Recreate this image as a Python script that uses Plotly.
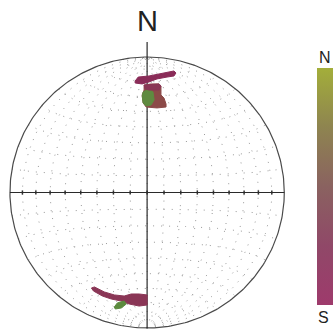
import numpy as np
import plotly.graph_objects as go

# ---- data (equal-area net coordinates, unit radius: east, north) ----
top_streak_e = [-0.087, -0.065, 0.014, 0.087, 0.145, 0.196, 0.210, 0.196, 0.145, 0.072, 0.014, -0.036, -0.087]
top_streak_n = [0.823, 0.852, 0.860, 0.875, 0.889, 0.897, 0.882, 0.860, 0.852, 0.838, 0.816, 0.801, 0.808]

top_blob_e = [-0.022, 0.029, 0.087, 0.101, 0.101, 0.123, 0.138, 0.138, 0.072, -0.007, -0.029, -0.036, -0.022]
top_blob_n = [0.793, 0.801, 0.801, 0.786, 0.720, 0.697, 0.653, 0.631, 0.624, 0.631, 0.661, 0.720, 0.756]

top_green_e = [-0.029, 0.014, 0.043, 0.051, 0.029, -0.007, -0.029, -0.036]
top_green_n = [0.742, 0.764, 0.742, 0.683, 0.646, 0.638, 0.661, 0.712]

top_cap_e = [-0.022, 0.087, 0.101, 0.087, 0.014, -0.014]
top_cap_n = [0.793, 0.801, 0.786, 0.756, 0.756, 0.764]

bot_streak_e = [-0.406, -0.384, -0.312, -0.239, -0.167, -0.116, -0.058, 0.0, 0.0, -0.058, -0.130, -0.188, -0.261, -0.326, -0.391]
bot_streak_n = [-0.705, -0.697, -0.734, -0.756, -0.764, -0.749, -0.749, -0.756, -0.830, -0.838, -0.823, -0.801, -0.786, -0.764, -0.727]

bot_green_e = [-0.239, -0.217, -0.167, -0.152, -0.188, -0.232]
bot_green_n = [-0.845, -0.815, -0.801, -0.823, -0.852, -0.860]

grid_step_deg = 10
colorbar_top_label = "N"
colorbar_bottom_label = "S"
north_label = "N"

colorscale = [
    [0.0, "#9e3a6c"],
    [0.25, "#904868"],
    [0.5, "#8a6260"],
    [0.75, "#8e8450"],
    [1.0, "#a3ae3a"],
]


def project(x, y, z):
    """Lower-hemisphere equal-area projection of direction (east, north, down)."""
    x = np.asarray(x, float)
    y = np.asarray(y, float)
    z = np.asarray(z, float)
    h = np.sqrt(x ** 2 + y ** 2)
    r = np.sqrt(np.clip(1 - z, 0, None))
    with np.errstate(invalid="ignore", divide="ignore"):
        X = np.where(h > 0, r * x / h, 0)
        Y = np.where(h > 0, r * y / h, 0)
    return X, Y


fig = go.Figure()

grid_color = "#9a9a9a"
grid_dash = "1px,7px"
# great circles (meridians through N and S)
phi = np.radians(np.linspace(-90, 90, 181))
for lam_d in range(-90 + grid_step_deg, 90, grid_step_deg):
    lam = np.radians(lam_d)
    X, Y = project(np.cos(phi) * np.sin(lam), np.sin(phi), np.cos(phi) * np.cos(lam))
    fig.add_trace(go.Scatter(x=X, y=Y, mode="lines",
                             line=dict(color=grid_color, width=1, dash=grid_dash),
                             hoverinfo="skip", showlegend=False))
# small circles around the N-S axis
lamv = np.radians(np.linspace(-90, 90, 181))
for phi_d in range(-90 + grid_step_deg, 90, grid_step_deg):
    p = np.radians(phi_d)
    X, Y = project(np.cos(p) * np.sin(lamv), np.full_like(lamv, np.sin(p)), np.cos(p) * np.cos(lamv))
    fig.add_trace(go.Scatter(x=X, y=Y, mode="lines",
                             line=dict(color=grid_color, width=1, dash=grid_dash),
                             hoverinfo="skip", showlegend=False))

# equator marks where meridians cross
eq_lams = np.radians(np.arange(-90 + grid_step_deg, 90, grid_step_deg))
EX, EY = project(np.sin(eq_lams), np.zeros_like(eq_lams), np.cos(eq_lams))
fig.add_trace(go.Scatter(x=EX, y=EY, mode="markers",
                         marker=dict(symbol="line-ns", size=3, line=dict(color="#333", width=1.5)),
                         hoverinfo="skip", showlegend=False))

# primitive circle
t = np.linspace(0, 2 * np.pi, 361)
fig.add_trace(go.Scatter(x=np.cos(t), y=np.sin(t), mode="lines",
                         line=dict(color="#4a4a4a", width=1.2),
                         hoverinfo="skip", showlegend=False))
# cross axes
fig.add_trace(go.Scatter(x=[-1, 1], y=[0, 0], mode="lines",
                         line=dict(color="#2a2a2a", width=1.2), hoverinfo="skip", showlegend=False))
fig.add_trace(go.Scatter(x=[0, 0], y=[-1, 1.11], mode="lines",
                         line=dict(color="#2a2a2a", width=1.2), hoverinfo="skip", showlegend=False))


def poly(e, n, color):
    fig.add_trace(go.Scatter(x=list(e) + [e[0]], y=list(n) + [n[0]], mode="lines", fill="toself",
                             fillcolor=color, line=dict(color=color, width=1),
                             hoverinfo="skip", showlegend=False))


poly(top_blob_e, top_blob_n, "#8c4a48")
poly(top_green_e, top_green_n, "#5f8a40")
poly(top_cap_e, top_cap_n, "#8a3656")
poly(top_streak_e, top_streak_n, "#8a2c58")
poly(bot_streak_e, bot_streak_n, "#8a3656")
poly(bot_green_e, bot_green_n, "#5c8a3e")

# colorbar via a trace whose points lie outside the visible range
fig.add_trace(go.Scatter(
    x=[5, 5], y=[5, 5], mode="markers",
    marker=dict(color=[0, 1], cmin=0, cmax=1, colorscale=colorscale, showscale=True, size=1,
                colorbar=dict(x=319 / 333, xanchor="left", y=1 - 68 / 330, yanchor="top",
                              lenmode="pixels", len=237, thickness=16, thicknessmode="pixels",
                              xpad=0, ypad=0, outlinewidth=0, showticklabels=False, ticks="")),
    hoverinfo="skip", showlegend=False))

lbl_font = dict(family="Liberation Sans, Arial", color="#222")
fig.update_layout(
    width=333, height=330,
    margin=dict(l=0, r=0, t=0, b=0),
    paper_bgcolor="white", plot_bgcolor="white",
    xaxis=dict(range=[-148 / 138, 185 / 138], visible=False, fixedrange=True),
    yaxis=dict(range=[-137.5 / 135.5, 192.5 / 135.5], visible=False, fixedrange=True),
    annotations=[
        dict(text=north_label, x=148 / 333, y=1 - 21 / 330, xref="paper", yref="paper",
             xanchor="center", yanchor="middle", showarrow=False, font=dict(size=29, **lbl_font)),
        dict(text=colorbar_top_label, x=327 / 333, y=1 - 57 / 330, xref="paper", yref="paper",
             xanchor="center", yanchor="middle", showarrow=False, font=dict(size=16, **lbl_font)),
        dict(text=colorbar_bottom_label, x=325 / 333, y=1 - 317 / 330, xref="paper", yref="paper",
             xanchor="center", yanchor="middle", showarrow=False, font=dict(size=16, **lbl_font)),
    ],
)

fig.write_html("out.html", config={"displayModeBar": False},
               post_script="document.body.style.margin='0';")
